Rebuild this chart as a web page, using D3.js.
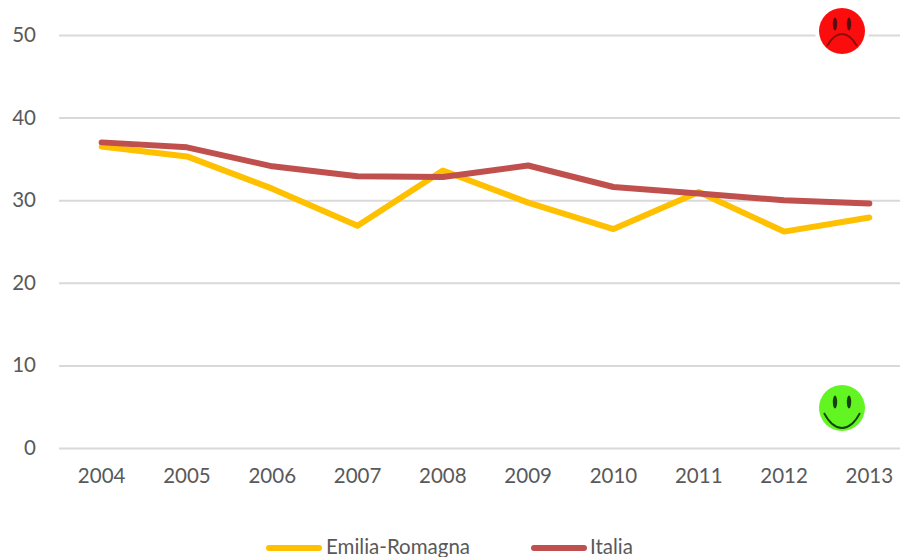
<!DOCTYPE html>
<html>
<head>
<meta charset="utf-8">
<script src="https://cdn.jsdelivr.net/npm/d3@7"></script>
<style>
    html, body { margin: 0; padding: 0; background: #fff; overflow: hidden; }
    text { font-family: Lato, sans-serif; fill: #595959; }
</style>
</head>
<body>
<div id="chart"></div>
<script>
var years = ["2004", "2005", "2006", "2007", "2008", "2009", "2010", "2011", "2012", "2013"];
var emilia = [36.5, 35.3, 31.4, 26.9, 33.6, 29.7, 26.5, 31.0, 26.2, 27.9];
var italia = [37.0, 36.4, 34.1, 32.9, 32.8, 34.2, 31.6, 30.8, 30.0, 29.6];
var yTicks = [0, 10, 20, 30, 40, 50];
var legendNames = ["Emilia-Romagna", "Italia"];
var lineColors = ["#ffc000", "#c0504d"];

var width = 900, height = 557;
var svg = d3.select("#chart").append("svg")
    .attr("width", width)
    .attr("height", height)
    .style("display", "block");

var blur = svg.append("defs").append("filter").attr("id", "soft");
blur.append("feGaussianBlur").attr("stdDeviation", 0.6);

var xScale = d3.scaleBand().domain(years).range([59, 912]);
var yScale = d3.scaleLinear().domain([0, 50]).range([448, 35]);

function xMid(d) {
    return xScale(d) + xScale.bandwidth() / 2;
}

// grid lines + y labels
var yAxis = d3.axisLeft(yScale).tickValues(yTicks).tickSize(-853).tickPadding(23);
var gy = svg.append("g")
    .attr("transform", "translate(59,0)")
    .call(yAxis);
gy.select(".domain").remove();
gy.selectAll("line").attr("stroke", "#d9d9d9").attr("stroke-width", 2);
gy.selectAll("text").attr("font-size", 20.5).attr("font-family", "Lato").style("fill", "#595959");

var xAxis = d3.axisBottom(xScale).tickSize(0).tickPadding(20);
var gx = svg.append("g")
    .attr("transform", "translate(0,448)")
    .call(xAxis);
gx.select(".domain").remove();
gx.selectAll("text").attr("font-size", 20.5).attr("font-family", "Lato").style("fill", "#595959");

var line = d3.line()
    .x(function(d, i) { return xMid(years[i]); })
    .y(function(d) { return yScale(d); });

[emilia, italia].forEach(function(values, i) {
    svg.append("path")
        .attr("d", line(values))
        .attr("fill", "none")
        .attr("stroke", lineColors[i])
        .attr("stroke-width", 6)
        .attr("stroke-linecap", "round")
        .attr("stroke-linejoin", "round");
});

// legend
var legendX = [269, 534];
var legendText = [326, 590];
legendNames.forEach(function(name, i) {
    svg.append("line")
        .attr("x1", legendX[i]).attr("x2", legendX[i] + 50)
        .attr("y1", 548).attr("y2", 548)
        .attr("stroke", lineColors[i])
        .attr("stroke-width", 6)
        .attr("stroke-linecap", "round");
    svg.append("text")
        .attr("x", legendText[i])
        .attr("y", 554)
        .attr("font-size", 20.5)
        .text(name);
});

// smileys
function smiley(cx, cy, fill, sad) {
    var g = svg.append("g").attr("transform", "translate(" + cx + "," + cy + ")");
    g.append("circle").attr("r", 27).attr("fill", "#fff");
    var face = g.append("g").attr("filter", "url(#soft)");
    face.append("circle").attr("r", 23).attr("fill", fill);
    [-7, 7].forEach(function(dx) {
        face.append("ellipse")
            .attr("cx", dx).attr("cy", sad ? -7 : -6)
            .attr("rx", 2.2).attr("ry", 6.5)
            .attr("fill", sad ? "#5a0a0a" : "#14400a");
    });
    face.append("path")
        .attr("d", sad ? "M-15,15 Q-8,3 0,3 Q8,3 15,15" : "M-18,5 Q-10,20 0,20 Q10,20 18,5")
        .attr("fill", "none")
        .attr("stroke", sad ? "#8a1010" : "#14400a")
        .attr("stroke-width", 1.8);
}
smiley(842, 31, "#fb0d0d", true);
smiley(842, 408, "#62f521", false);
</script>
</body>
</html>
